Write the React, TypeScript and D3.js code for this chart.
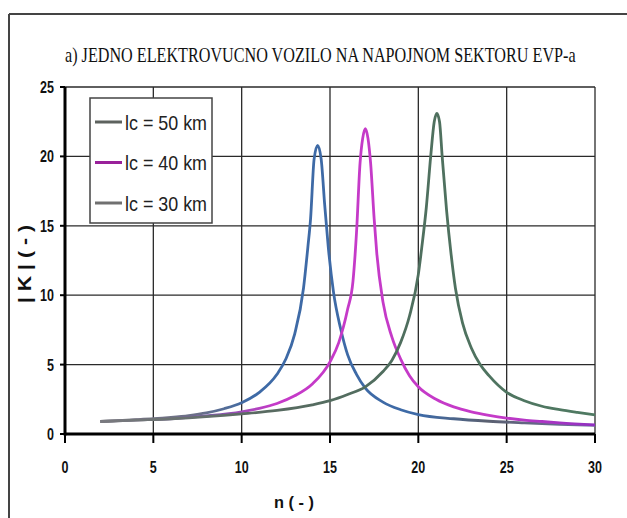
import React, { useLayoutEffect, useRef, useState } from "react";
import * as d3 from "d3";

// ---- data ----
const xTicks = [0, 5, 10, 15, 20, 25, 30];
const yTicks = [0, 5, 10, 15, 20, 25];
const titleText = "a)  JEDNO ELEKTROVUCNO VOZILO NA NAPOJNOM SEKTORU EVP-a";
const xLabel = "n ( - )";
const yLabel = "| K |  ( - )";
const seriesNames = ["lc = 50 km", "lc = 40 km", "lc = 30 km"];

const n50 = [2, 3, 4, 5, 6, 7, 8, 9, 10, 11, 12, 12.5, 13, 13.5, 13.75, 13.9, 14.1, 14.3, 14.5, 14.7, 14.9, 15.2, 15.6, 16, 16.5, 17, 18, 19, 20, 22, 24, 26, 28, 30];
const k50 = [0.9, 0.97, 1.03, 1.1, 1.2, 1.33, 1.52, 1.82, 2.25, 3.0, 4.3, 5.4, 7.2, 10.5, 13.5, 15.5, 19.8, 20.8, 19.8, 16.5, 13.5, 10.2, 7.6, 5.7, 4.3, 3.3, 2.3, 1.75, 1.4, 1.1, 0.92, 0.8, 0.7, 0.62];

const n40 = [2, 4, 6, 8, 10, 11, 12, 13, 14, 15, 15.5, 16, 16.3, 16.5, 16.7, 16.85, 17.0, 17.15, 17.3, 17.5, 17.65, 18, 18.5, 19, 19.5, 20, 21, 22, 23, 24, 25, 26, 27, 28, 30];
const k40 = [0.9, 1.0, 1.1, 1.3, 1.6, 1.85, 2.2, 2.75, 3.6, 5.2, 6.6, 9.0, 11.0, 14.5, 19.5, 21.3, 22.0, 21.3, 19.5, 15.5, 13.0, 9.5, 7.0, 5.4, 4.2, 3.4, 2.5, 1.95, 1.6, 1.35, 1.15, 1.0, 0.9, 0.8, 0.66];

const n30 = [2, 4, 6, 8, 10, 12, 14, 15, 16, 17, 18, 18.5, 19, 19.5, 20, 20.2, 20.45, 20.7, 20.9, 21.05, 21.2, 21.35, 21.6, 21.85, 22.1, 22.5, 23, 23.5, 24, 25, 26, 27, 28, 29, 30];
const k30 = [0.9, 1.0, 1.1, 1.25, 1.45, 1.7, 2.1, 2.4, 2.85, 3.4, 4.5, 5.3, 6.6, 8.5, 11.5, 13.5, 16.3, 20.0, 22.5, 23.1, 22.5, 20.0, 16.1, 13.0, 10.5, 8.0, 6.2, 5.0, 4.2, 3.0, 2.4, 2.0, 1.75, 1.55, 1.37];

const seriesN = [n50, n40, n30];
const seriesK = [k50, k40, k30];

// ---- styles ----
const curveGradients = [
  [["0", "#7a7a80"], ["0.2", "#6a6f88"], ["0.3", "#3e6aa6"], ["0.65", "#3e6aa6"], ["0.78", "#5a6070"], ["1", "#7070a0"]],
  [["0", "#7a7a80"], ["0.22", "#7a5aa8"], ["0.35", "#c53ac8"], ["0.8", "#c53ac8"], ["1", "#9030c0"]],
  [["0", "#7a7a80"], ["0.3", "#5a6a62"], ["0.6", "#4f6e5e"], ["1", "#4f7a62"]],
];
const legendColors = ["#5d625e", "#99219a", "#707070"];
const sans = "'Liberation Sans', Arial, sans-serif";
const serif = "'Liberation Serif', 'Times New Roman', serif";

type FitProps = {
  x: number;
  y: number;
  width: number;
  rotate?: number;
  anchor?: "start" | "middle" | "end";
  children: string;
  [k: string]: any;
};

// text horizontally condensed to a given width (measured after layout)
function FitText({ x, y, width, rotate = 0, anchor = "start", children, ...rest }: FitProps) {
  const ref = useRef<SVGTextElement>(null);
  const [s, setS] = useState(1);
  useLayoutEffect(() => {
    if (ref.current) {
      const w = ref.current.getComputedTextLength();
      if (w > 0) setS(width / w);
    }
  }, [width, children]);
  return (
    <text
      ref={ref}
      transform={`translate(${x},${y}) rotate(${rotate}) scale(${s},1)`}
      textAnchor={anchor}
      {...rest}
    >
      {children}
    </text>
  );
}

export default function App() {
  const W = 627, H = 518;
  const x = d3.scaleLinear().domain([0, 30]).range([65, 595]);
  const y = d3.scaleLinear().domain([0, 25]).range([434, 87]);
  const line = d3
    .line<[number, number]>()
    .x((d) => x(d[0]))
    .y((d) => y(d[1]))
    .curve(d3.curveMonotoneX);

  const tickScale = 0.76;

  return (
    <svg width={W} height={H} style={{ position: "absolute", left: 0, top: 0, background: "#fff" }}>
      <defs>
        {curveGradients.map((stops, i) => (
          <linearGradient key={i} id={`g${i}`} gradientUnits="userSpaceOnUse" x1={x(2)} x2={x(30)} y1={0} y2={0}>
            {stops.map((s, j) => (
              <stop key={j} offset={s[0]} stopColor={s[1]} />
            ))}
          </linearGradient>
        ))}
      </defs>
      {/* outer frame */}
      <line x1={9} x2={W} y1={14} y2={14} stroke="#444" strokeWidth={2} />
      <line x1={9} x2={9} y1={14} y2={H} stroke="#444" strokeWidth={2} />

      {/* title */}
      <FitText x={65} y={62} width={511} fontFamily={serif} fontSize={20} fill="#111">
        {titleText}
      </FitText>

      {/* grid */}
      {xTicks.slice(1).map((t) => (
        <line key={"gx" + t} x1={x(t)} x2={x(t)} y1={y(25)} y2={y(0)} stroke="#2a2a2a" strokeWidth={1.3} />
      ))}
      {yTicks.slice(1).map((t) => (
        <line key={"gy" + t} x1={x(0)} x2={x(30)} y1={y(t)} y2={y(t)} stroke="#2a2a2a" strokeWidth={1.3} />
      ))}

      {/* curves */}
      {seriesN.map((ns, i) => (
        <path
          key={"c" + i}
          d={line(ns.map((n, j) => [n, seriesK[i][j]] as [number, number])) || ""}
          fill="none"
          stroke={`url(#g${i})`}
          strokeWidth={2.8}
          strokeLinejoin="round"
        />
      ))}

      {/* axes */}
      <line x1={x(0)} x2={x(30)} y1={y(0)} y2={y(0)} stroke="#000" strokeWidth={3} />
      <line x1={x(0)} x2={x(0)} y1={y(25)} y2={y(0) + 1.5} stroke="#000" strokeWidth={3} />
      {xTicks.map((t) => (
        <g key={"xt" + t}>
          <line x1={x(t)} x2={x(t)} y1={y(0)} y2={y(0) + 9} stroke="#000" strokeWidth={2} />
          <text
            transform={`translate(${x(t)},473) scale(${tickScale},1)`}
            textAnchor="middle"
            fontFamily={sans}
            fontWeight="bold"
            fontSize={16.5}
            fill="#111"
          >
            {t}
          </text>
        </g>
      ))}
      {yTicks.map((t) => (
        <g key={"yt" + t}>
          <line x1={x(0) - 5} x2={x(0)} y1={y(t)} y2={y(t)} stroke="#000" strokeWidth={2} />
          <text
            transform={`translate(54,${y(t) + 6}) scale(${tickScale},1)`}
            textAnchor="end"
            fontFamily={sans}
            fontWeight="bold"
            fontSize={16.5}
            fill="#111"
          >
            {t}
          </text>
        </g>
      ))}

      {/* axis titles */}
      <FitText x={294} y={508} width={40} anchor="middle" fontFamily={sans} fontWeight="bold" fontSize={17} fill="#111">
        {xLabel}
      </FitText>
      <FitText x={31} y={264} width={78} rotate={-90} anchor="middle" fontFamily={sans} fontWeight="bold" fontSize={18} fill="#111">
        {yLabel}
      </FitText>

      {/* legend */}
      <rect x={90} y={98} width={122} height={125} fill="#fff" stroke="#444" strokeWidth={1.5} />
      {seriesNames.map((s, i) => (
        <g key={"lg" + i}>
          <line x1={95} x2={122} y1={122 + i * 40.5} y2={122 + i * 40.5} stroke={legendColors[i]} strokeWidth={3} />
          <FitText x={125} y={122 + i * 40.5 + 7.5} width={82} fontFamily={sans} fontSize={21} fill="#222">
            {s}
          </FitText>
        </g>
      ))}
    </svg>
  );
}
